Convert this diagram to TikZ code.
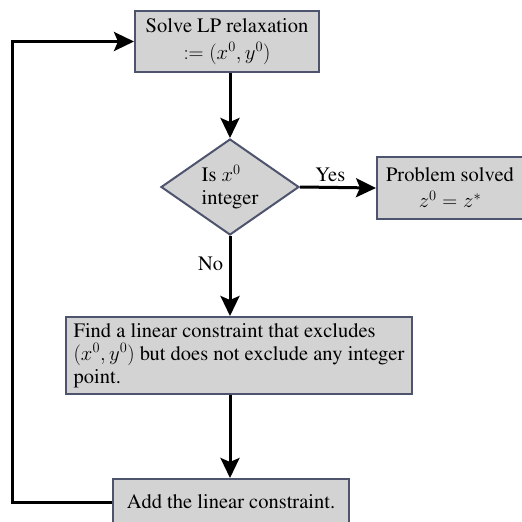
\documentclass[tikz,border=0pt]{standalone}
\usepackage[T1]{fontenc}
\usepackage{times}
\usetikzlibrary{shapes.geometric,arrows.meta}
\definecolor{boxfill}{RGB}{211,211,211}
\definecolor{boxline}{RGB}{78,84,110}
\begin{document}
\begin{tikzpicture}[x=1pt,y=-1pt,
  txt/.style={font=\rmfamily\fontsize{20.5}{23}\selectfont},
  box/.style={txt,draw=boxline,fill=boxfill,line width=2pt,rectangle,inner sep=0pt},
  dia/.style={txt,draw=boxline,fill=boxfill,line width=2pt,diamond,aspect=1.43,inner sep=0pt,minimum width=138pt,minimum height=96pt},
  conn/.style={line width=3pt,-{Stealth[length=20pt,width=19pt,inset=4pt]}},
  lbl/.style={txt}]
\useasboundingbox (0,0) rectangle (522,522);
\node[box,minimum width=184pt,minimum height=61pt,align=center] (lp) at (227,41.5) {Solve LP relaxation\\[4pt]$:=(x^0,y^0)$};
\node[dia,align=left] (int) at (230,187) {Is $x^0$\\integer};
\node[box,minimum width=146pt,minimum height=62pt,align=center] (solved) at (450,188) {Problem solved\\[3pt]$z^0=z^*$};
\node[box,minimum width=346pt,minimum height=77pt,align=left] (cut) at (239,355.5) {Find a linear constraint that excludes\\$(x^0,y^0)$ but does not exclude any integer\\point.};
\node[box,minimum width=236pt,minimum height=46pt] (add) at (231,502) {Add the linear constraint.};
\coordinate (lx) at (12,0);
\draw[conn] (int.north |- lp.south) -- (int.north);
\draw[conn] (int.east) -- (solved.west) node[lbl,pos=0.4,above=1pt] (yes) {Yes};
\draw[conn] (int.south) -- (int.south |- cut.north) node[lbl,pos=0.35,left=2pt] (no) {No};
\draw[conn] (int.south |- cut.south) -- (int.south |- add.north);
\draw[conn,line join=miter] (add.west) -- (add.west -| lx) |- (lp.west);
\end{tikzpicture}
\end{document}
